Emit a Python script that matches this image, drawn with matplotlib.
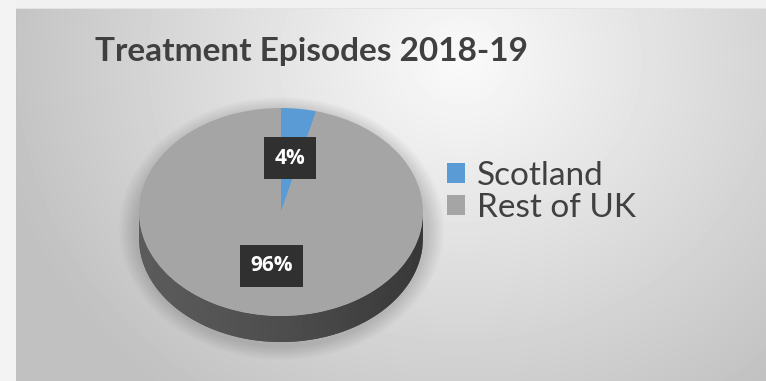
import numpy as np
import matplotlib.pyplot as plt
from matplotlib.patches import Polygon

labels = ["Scotland", "Rest of UK"]
shares = [4, 96]
colors = ["#5b9bd5", "#a5a5a5"]
title = "Treatment Episodes 2018-19"

W, H = 766, 381
fig = plt.figure(figsize=(W / 100, H / 100), dpi=100)

# background: soft radial grey panel with a light outer margin
bg = fig.add_axes([0, 0, 1, 1])
yy, xx = np.mgrid[0:H, 0:W]
r = np.hypot((xx - 460) / 380, (yy - 60) / 340)
lev = (250 - 46 * np.clip(r, 0, 1.25)) / 255
lev[:8, :] = 0.945
lev[:, :16] = 0.952
lev[8, 16:] = 0.89
bg.imshow(lev, cmap="gray", vmin=0, vmax=1, extent=(0, W, H, 0), interpolation="bilinear")

# soft drop shadow around the pie
cx, cy, rx, ry, depth = 281, 212, 142, 104, 26
r2 = np.hypot((xx - cx) / (rx + 4), (yy - cy - 16) / (ry + 14))
shadow = np.zeros((H, W, 4))
shadow[..., 3] = 0.16 * np.clip((1.12 - r2) / 0.12, 0, 1)
bg.imshow(shadow, extent=(0, W, H, 0), interpolation="bilinear")
bg.set_xlim(0, W)
bg.set_ylim(H, 0)
bg.set_aspect("auto")
bg.axis("off")

# pie axes, squashed vertically to give the tilted look
ax = fig.add_axes([(cx - rx) / W, (H - (cy + ry + depth)) / H, 2 * rx / W, (2 * ry + depth) / H])
d = depth / ry

# side wall of the disc
x = np.linspace(-1, 1, 400)
yt = -np.sqrt(1 - x ** 2)
pts = np.vstack([np.column_stack([x, yt]), np.column_stack([x[::-1], yt[::-1] - d])])
side = Polygon(pts, closed=True, fc="#4c4c4c", lw=0, zorder=1)
ax.add_patch(side)
grad = np.interp(np.linspace(0, 1, 200), [0, 0.3, 0.6, 1], [0.36, 0.33, 0.29, 0.22])
img = ax.imshow(grad[None, :], cmap="gray", vmin=0, vmax=1, extent=(-1, 1, -1 - d, 0),
                interpolation="bilinear", zorder=1)
img.set_clip_path(side)

wedges, texts, autotexts = ax.pie(
    shares, colors=colors, startangle=90, counterclock=False, radius=1,
    autopct=lambda p: f"{p:.0f}%", pctdistance=0.52,
    wedgeprops=dict(linewidth=0, zorder=2),
    textprops=dict(color="white", fontsize=15, fontweight="bold", family="Open Sans"),
)
for t in autotexts:
    t.set_bbox(dict(boxstyle="square,pad=0.5", fc="#303030", ec="none"))
    t.set_zorder(5)

ax.set_aspect("auto")
ax.set_xlim(-1, 1)
ax.set_ylim(-1 - d, 1)
ax.axis("off")

fig.text(95 / W, 1 - 61 / H, title, fontsize=24, fontweight="bold", color="#404040",
         family="Lato", va="baseline")

fig.legend(wedges, labels, loc="upper left", bbox_to_anchor=(447 / W, 1 - 161 / H),
           frameon=False, prop=dict(family="Lato", size=24), labelcolor="#404040",
           handlelength=0.55, handleheight=0.55, handletextpad=0.35, labelspacing=0.05,
           borderpad=0, borderaxespad=0)

fig.savefig("out.png", dpi=100)
